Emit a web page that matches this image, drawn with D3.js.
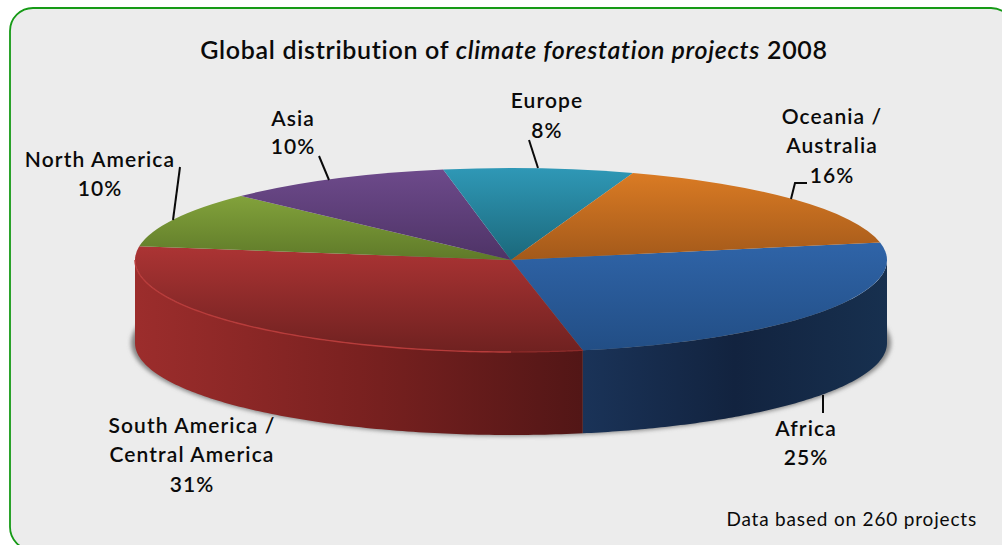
<!DOCTYPE html>
<html>
<head>
<meta charset="utf-8">
<script src="https://cdn.jsdelivr.net/npm/d3@7"></script>
<style>
  html, body { margin: 0; padding: 0; background: #fff; overflow: hidden; }
  text { font-family: Lato, "Open Sans", sans-serif; fill: #0a0a0a; }
</style>
</head>
<body>
<svg id="chart" width="1002" height="545"></svg>
<script>
const categories = ['Africa', 'South America / Central America', 'North America', 'Asia', 'Europe', 'Oceania / Australia'];
const shares = [25, 31, 10, 10, 8, 16];
const faceTop = ['#2f64a8', '#ac3434', '#82a23b', '#6d4a8b', '#2f98b6', '#da7b24'];
const faceBottom = ['#224e85', '#6f2120', '#5f7a29', '#4e3366', '#1b687b', '#a3591a'];
const wallStops = {
  'Africa': ['#1a3358', '#12233f', '#17304f'],
  'South America / Central America': ['#9c2d2c', '#7a2120', '#521616']
};

const width = 1002;
const height = 545;
const cx = 511;
const cy = 260;
const rx = 376;
const ry = 92;
const depth = 83;
const startDeg = 79;

const svg = d3.select('#chart');
const defs = svg.append('defs');

defs.append('filter').attr('id', 'soft')
  .attr('x', '-5%').attr('width', '110%')
  .append('feGaussianBlur').attr('stdDeviation', 2);

// panel
svg.append('rect')
  .attr('x', 10).attr('y', 8)
  .attr('width', 1004).attr('height', 542)
  .attr('rx', 23).attr('ry', 23)
  .attr('fill', '#ececec')
  .attr('stroke', '#169a16')
  .attr('stroke-width', 1.8);

const start = startDeg * Math.PI / 180;
const pie = d3.pie().sort(null).startAngle(start).endAngle(start + 2 * Math.PI);
const slices = pie(shares).map((d, i) => ({ ...d, name: categories[i], i }));

// the tilted 3D view pulls the far side of the disc round a little
const rad = deg => deg * Math.PI / 180;
const view = d3.scaleLinear()
  .domain([79, 169, 280, 352, 381, 439].map(rad))
  .range([79, 169, 278, 349, 378.5, 439].map(rad));

const rimX = a => cx + rx * Math.sin(a);
const rimY = a => cy - ry * Math.cos(a);

function verticalGradient(id, top, bottom) {
  const g = defs.append('linearGradient').attr('id', id)
    .attr('x1', 0).attr('y1', 0).attr('x2', 0).attr('y2', 1);
  g.append('stop').attr('offset', 0).attr('stop-color', top);
  g.append('stop').attr('offset', 1).attr('stop-color', bottom);
}

function horizontalGradient(id, colors) {
  const g = defs.append('linearGradient').attr('id', id)
    .attr('x1', 0).attr('y1', 0).attr('x2', 1).attr('y2', 0);
  colors.forEach((c, k) => {
    g.append('stop').attr('offset', k / (colors.length - 1)).attr('stop-color', c);
  });
}

// ground shadow peeking out at both ends
svg.append('ellipse')
  .attr('cx', cx).attr('cy', cy + depth)
  .attr('rx', rx + 4).attr('ry', ry + 1)
  .attr('fill', '#858585')
  .attr('filter', 'url(#soft)');

// front wall, only the part of the rim facing the viewer
const wall = d3.area()
  .x(rimX)
  .y0(rimY)
  .y1(a => rimY(a) + depth);

const wallSlices = slices.filter(d => wallStops[d.name]);
wallSlices.forEach(d => {
  horizontalGradient(`wall${d.i}`, wallStops[d.name]);
  const a0 = Math.max(view(d.startAngle), Math.PI / 2);
  const a1 = Math.min(view(d.endAngle), 3 * Math.PI / 2);
  svg.append('path')
    .attr('d', wall(d3.range(0, 121).map(k => a0 + (a1 - a0) * k / 120)))
    .attr('fill', `url(#wall${d.i})`);
});

// top face
const arc = d3.arc()
  .innerRadius(0)
  .outerRadius(rx)
  .startAngle(d => view(d.startAngle))
  .endAngle(d => view(d.endAngle));
const face = svg.append('g')
  .attr('transform', `translate(${cx},${cy}) scale(1,${ry / rx})`);

slices.forEach(d => verticalGradient(`face${d.i}`, faceTop[d.i], faceBottom[d.i]));

face.selectAll('path')
  .data(slices)
  .join('path')
  .attr('d', arc)
  .attr('fill', d => `url(#face${d.i})`);

// lighter bevel along the front edge of the red slice
const rimLine = d3.line().x(rimX).y(rimY);
const red = slices[1];
svg.append('path')
  .attr('d', rimLine(d3.range(0, 101).map(k => Math.PI + (Math.PI / 2) * k / 100)))
  .attr('fill', 'none')
  .attr('stroke', '#b83c3b')
  .attr('stroke-width', 1.4);
svg.append('path')
  .attr('d', rimLine(d3.range(0, 41).map(k => red.startAngle + (Math.PI - red.startAngle) * k / 40)))
  .attr('fill', 'none')
  .attr('stroke', '#8f2a29')
  .attr('stroke-width', 1.2);

// leader lines
const leaders = [
  [[180, 167], [173, 220]],
  [[319, 156], [329, 180]],
  [[529, 140], [538, 168]],
  [[807, 183], [795, 183], [791, 199]],
  [[823, 395], [823, 413]]
];
const leaderLine = d3.line();
svg.selectAll('path.leader')
  .data(leaders)
  .join('path')
  .attr('class', 'leader')
  .attr('d', leaderLine)
  .attr('fill', 'none')
  .attr('stroke', '#0a0a0a')
  .attr('stroke-width', 2);

// slice labels
const labelLines = [
  { x: 100, lines: [['North America', 167], ['10%', 196]] },
  { x: 293, lines: [['Asia', 126], ['10%', 154]] },
  { x: 547, lines: [['Europe', 108], ['8%', 138]] },
  { x: 832, lines: [['Oceania /', 124], ['Australia', 153], ['16%', 183]] },
  { x: 192, lines: [['South America /', 433], ['Central America', 462], ['31%', 492]] },
  { x: 806, lines: [['Africa', 436], ['25%', 465]] }
];
labelLines.forEach(label => {
  label.lines.forEach(([t, y]) => {
    svg.append('text')
      .attr('x', label.x).attr('y', y)
      .attr('text-anchor', 'middle')
      .attr('font-size', 21)
      .attr('font-weight', 600)
      .attr('letter-spacing', 1.1)
      .text(t);
  });
});

// title
const title = svg.append('text')
  .attr('x', 514).attr('y', 59)
  .attr('text-anchor', 'middle')
  .attr('font-size', 25)
  .attr('font-weight', 600)
  .attr('letter-spacing', 0.68);
title.append('tspan').text('Global distribution of ');
title.append('tspan').attr('font-style', 'italic').text('climate forestation projects');
title.append('tspan').text(' 2008');

svg.append('text')
  .attr('x', 977).attr('y', 526)
  .attr('text-anchor', 'end')
  .attr('font-size', 19)
  .attr('letter-spacing', 0.82)
  .text('Data based on 260 projects');
</script>
</body>
</html>
